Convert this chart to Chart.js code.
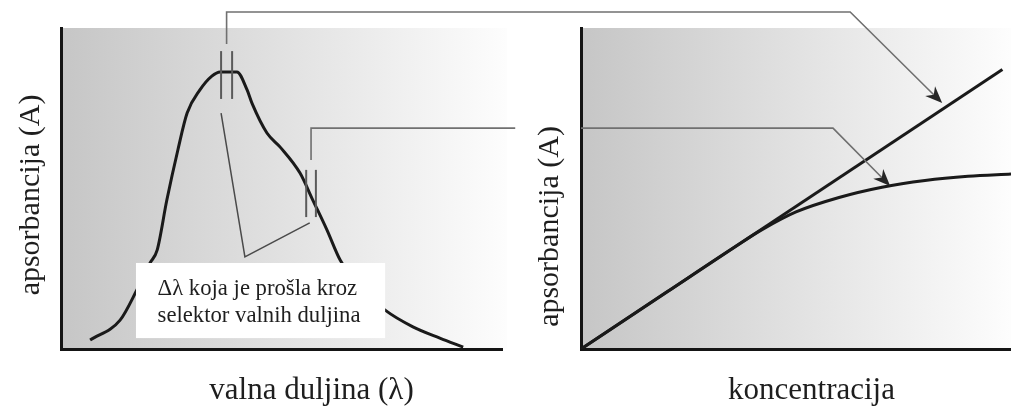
<!DOCTYPE html>
<html>
<head>
<meta charset="utf-8">
<script src="https://cdn.jsdelivr.net/npm/chart.js@4.4.0/dist/chart.umd.min.js"></script>
<style>
html, body { margin: 0; padding: 0; background: #fff; overflow: hidden; }
#wrap { position: relative; width: 1011px; height: 409px; }
#wrap canvas { position: absolute; left: 0; top: 0; }
</style>
</head>
<body>
<div id="wrap">
  <canvas id="spektar" width="1011" height="409"></canvas>
  <canvas id="kalibracija" width="1011" height="409"></canvas>
</div>
<script>
// spektar apsorpcije (lijevo), relativne jedinice 0-100
var valnaDuljina = [6.6, 13.4, 17.2, 20.2, 21.8, 24.0, 26.5, 28.6, 31.5, 34.2, 36.1, 39.9, 42.2, 43.3, 46.7, 49.7, 54.2, 57.1, 60.3, 63.3, 67.6, 73.5, 79.8, 85.9, 91.2];
var apsorbancijaSpektar = [2.8, 9.0, 18.4, 26.8, 30.8, 46.4, 62.0, 73.5, 80.7, 85.0, 86.3, 86.3, 80.7, 76.6, 67.3, 62.9, 54.8, 46.4, 37.1, 27.7, 19.5, 12.1, 6.9, 3.4, 0.6];

// kalibracijski pravac i krivulja (desno)
var koncentracija = [0, 98];
var apsorbancijaLinearna = [0, 87.1];
var koncentracijaKrivulja = [0, 20, 36, 42, 50, 60, 70, 80, 90, 100];
var apsorbancijaKrivulja = [0, 17.8, 32.0, 37.1, 42.7, 47.2, 50.4, 52.5, 53.8, 54.5];

var serif = '"Liberation Serif", "Times New Roman", serif';

function tocke(xs, ys) {
    var out = [];
    for (var i = 0; i < xs.length; i++) out.push({x: xs[i], y: ys[i]});
    return out;
}

// sivi gradijent iza podrucja crtanja
var pozadina = {
    id: 'pozadina',
    beforeDraw: function(chart, args, opts) {
        var a = chart.chartArea, ctx = chart.ctx;
        var w = a.right - a.left + (opts.extra || 0);
        var g = ctx.createLinearGradient(a.left, 0, a.left + w, 0);
        g.addColorStop(0, '#c6c6c6');
        g.addColorStop(1, '#fdfdfd');
        ctx.save();
        ctx.fillStyle = g;
        ctx.fillRect(a.left, a.top, w, a.bottom - a.top);
        ctx.restore();
    }
};

// nazivi osi (nisu centrirani na osima pa ih crtam sam)
var naslovi = {
    id: 'naslovi',
    afterDraw: function(chart, args, opts) {
        var a = chart.chartArea, ctx = chart.ctx;
        ctx.save();
        ctx.fillStyle = '#1e1e1e';
        ctx.textAlign = 'center';
        ctx.textBaseline = 'middle';
        ctx.save();
        ctx.font = '30px ' + serif;
        ctx.translate(a.left + opts.y.dx, a.top + opts.y.dy);
        ctx.rotate(-Math.PI / 2);
        ctx.fillText(opts.y.text, 0, 0);
        ctx.restore();
        ctx.font = '31px ' + serif;
        ctx.fillText(opts.x.text, a.left + opts.x.dx, a.bottom + opts.x.dy);
        ctx.restore();
    }
};

// oznake propusnog pojasa i okvir s tekstom
var pojasevi = [
    {x: 37.55, w: 1.25, gore: 92.8, dolje: 77.9},
    {x: 56.7, w: 1.1, gore: 55.8, dolje: 41.1}
];
var oznake = {
    id: 'oznake',
    afterDatasetsDraw: function(chart) {
        var ctx = chart.ctx, sx = chart.scales.x, sy = chart.scales.y;
        var px = function(v) { return sx.getPixelForValue(v); };
        var py = function(v) { return sy.getPixelForValue(v); };
        ctx.save();
        ctx.strokeStyle = '#5a5a5a';
        ctx.lineWidth = 2;
        pojasevi.forEach(function(p) {
            [p.x - p.w, p.x + p.w].forEach(function(v) {
                ctx.beginPath();
                ctx.moveTo(px(v), py(p.gore));
                ctx.lineTo(px(v), py(p.dolje));
                ctx.stroke();
            });
        });
        ctx.strokeStyle = '#4a4a4a';
        ctx.lineWidth = 1.5;
        ctx.beginPath();
        ctx.moveTo(px(36.3), py(73.5));
        ctx.lineTo(px(41.7), py(28.7));
        ctx.lineTo(px(56.4), py(39.3));
        ctx.stroke();

        ctx.fillStyle = '#ffffff';
        ctx.fillRect(px(17), py(26.8), px(73.5) - px(17), py(3.4) - py(26.8));
        ctx.fillStyle = '#1e1e1e';
        ctx.font = '22.7px ' + serif;
        ctx.textBaseline = 'alphabetic';
        ctx.fillText('\u0394\u03bb koja je pro\u0161la kroz', px(21.9), py(16.8));
        ctx.fillText('selektor valnih duljina', px(21.9), py(8.4));
        ctx.restore();
    }
};

function strelica(ctx, x0, y0, x1, y1) {
    var dx = x1 - x0, dy = y1 - y0, d = Math.sqrt(dx * dx + dy * dy);
    var ux = dx / d, uy = dy / d, len = 17, hw = 7;
    ctx.lineTo(x1 - ux * len * 0.7, y1 - uy * len * 0.7);
    ctx.stroke();
    ctx.beginPath();
    ctx.moveTo(x1, y1);
    ctx.lineTo(x1 - ux * len - uy * hw, y1 - uy * len + ux * hw);
    ctx.lineTo(x1 - ux * len * 0.7, y1 - uy * len * 0.7);
    ctx.lineTo(x1 - ux * len + uy * hw, y1 - uy * len - ux * hw);
    ctx.closePath();
    ctx.fill();
}

var lijevi;
// spojnice od pojaseva do desnog grafa
var spojnice = {
    id: 'spojnice',
    afterDraw: function(chart) {
        if (!lijevi) return;
        var ctx = chart.ctx;
        var Lx = lijevi.scales.x, Ly = lijevi.scales.y, Rx = chart.scales.x, Ry = chart.scales.y;
        ctx.save();
        ctx.strokeStyle = '#707070';
        ctx.fillStyle = '#262626';
        ctx.lineWidth = 1.6;

        ctx.beginPath();
        ctx.moveTo(Lx.getPixelForValue(37.55), Ly.getPixelForValue(95));
        ctx.lineTo(Lx.getPixelForValue(37.55), Ly.getPixelForValue(105));
        ctx.lineTo(Rx.getPixelForValue(62.6), Ry.getPixelForValue(105));
        strelica(ctx, Rx.getPixelForValue(62.6), Ry.getPixelForValue(105), Rx.getPixelForValue(84), Ry.getPixelForValue(76.6));

        ctx.beginPath();
        ctx.moveTo(Lx.getPixelForValue(56.7), Ly.getPixelForValue(58.9));
        ctx.lineTo(Lx.getPixelForValue(56.7), Ly.getPixelForValue(68.8));
        ctx.lineTo(Lx.getPixelForValue(103), Ly.getPixelForValue(68.8));
        ctx.stroke();
        ctx.beginPath();
        ctx.moveTo(Rx.getPixelForValue(0), Ry.getPixelForValue(68.8));
        ctx.lineTo(Rx.getPixelForValue(58.6), Ry.getPixelForValue(68.8));
        strelica(ctx, Rx.getPixelForValue(58.6), Ry.getPixelForValue(68.8), Rx.getPixelForValue(71.9), Ry.getPixelForValue(50.8));
        ctx.restore();
    }
};

function osi() {
    var os = {
        type: 'linear', min: 0, max: 100,
        ticks: {display: false},
        grid: {display: false, drawTicks: false},
        border: {display: true, width: 3, color: '#151515'},
        title: {display: false}
    };
    return {x: Object.assign({}, os), y: Object.assign({}, os)};
}

var zajednicko = {
    responsive: false,
    animation: false,
    events: [],
    elements: {point: {radius: 0}}
};

lijevi = new Chart(document.getElementById('spektar'), {
    type: 'line',
    data: {
        datasets: [{
            data: tocke(valnaDuljina, apsorbancijaSpektar),
            borderColor: '#1a1a1a',
            borderWidth: 3,
            cubicInterpolationMode: 'monotone',
            fill: false
        }]
    },
    options: Object.assign({}, zajednicko, {
        layout: {autoPadding: false, padding: {left: 61, right: 509, top: 28, bottom: 60}},
        scales: osi(),
        plugins: {
            legend: {display: false},
            tooltip: {enabled: false},
            pozadina: {extra: 5},
            naslovi: {
                y: {text: 'apsorbancija (A)', dx: -30, dy: 167},
                x: {text: 'valna duljina (\u03bb)', dx: 250.5, dy: 42}
            }
        }
    }),
    plugins: [pozadina, oznake, naslovi]
});

new Chart(document.getElementById('kalibracija'), {
    type: 'line',
    data: {
        datasets: [{
            data: tocke(koncentracija, apsorbancijaLinearna),
            borderColor: '#1a1a1a',
            borderWidth: 3,
            tension: 0,
            fill: false
        }, {
            data: tocke(koncentracijaKrivulja, apsorbancijaKrivulja),
            borderColor: '#1a1a1a',
            borderWidth: 3,
            cubicInterpolationMode: 'monotone',
            fill: false
        }]
    },
    options: Object.assign({}, zajednicko, {
        layout: {autoPadding: false, padding: {left: 581, right: 0, top: 28, bottom: 60}},
        scales: osi(),
        plugins: {
            legend: {display: false},
            tooltip: {enabled: false},
            pozadina: {extra: 0},
            naslovi: {
                y: {text: 'apsorbancija (A)', dx: -31, dy: 198.5},
                x: {text: 'koncentracija', dx: 230.5, dy: 42}
            }
        }
    }),
    plugins: [pozadina, naslovi, spojnice]
});
</script>
</body>
</html>
